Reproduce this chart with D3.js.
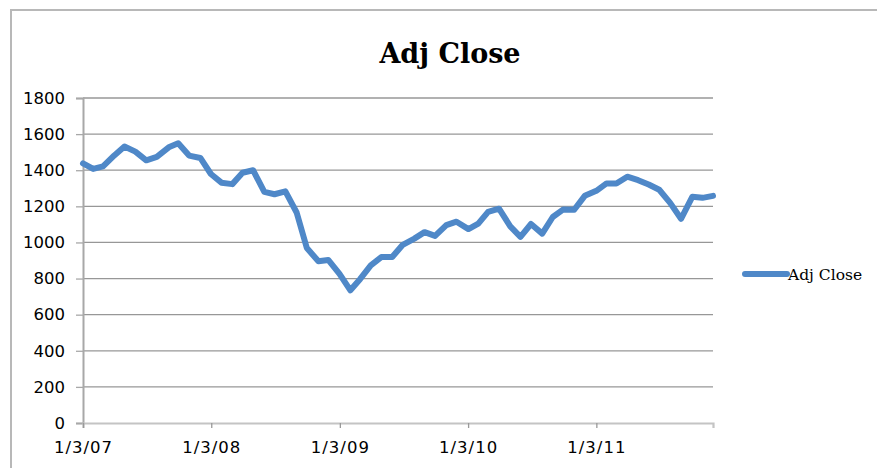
<!DOCTYPE html>
<html>
<head>
<meta charset="utf-8">
<script src="https://cdn.jsdelivr.net/npm/d3@7"></script>
<style>
  html, body { margin: 0; padding: 0; background: #fff; }
  svg { display: block; }
</style>
</head>
<body>
<svg id="chart" width="877" height="468"></svg>
<script>
// -----------------------------
//  DATA (monthly, first trading day)
// -----------------------------
const dates = [
    "2007-01-03", "2007-02-01", "2007-03-01", "2007-04-02", "2007-05-01", "2007-06-01",
    "2007-07-02", "2007-08-01", "2007-09-04", "2007-10-01", "2007-11-01", "2007-12-03",
    "2008-01-02", "2008-02-01", "2008-03-03", "2008-04-01", "2008-05-01", "2008-06-02",
    "2008-07-01", "2008-08-01", "2008-09-02", "2008-10-01", "2008-11-03", "2008-12-01",
    "2009-01-02", "2009-02-02", "2009-03-02", "2009-04-01", "2009-05-01", "2009-06-01",
    "2009-07-01", "2009-08-03", "2009-09-01", "2009-10-01", "2009-11-02", "2009-12-01",
    "2010-01-04", "2010-02-01", "2010-03-01", "2010-04-01", "2010-05-03", "2010-06-01",
    "2010-07-01", "2010-08-02", "2010-09-01", "2010-10-01", "2010-11-01", "2010-12-01",
    "2011-01-03", "2011-02-01", "2011-03-01", "2011-04-01", "2011-05-02", "2011-06-01",
    "2011-07-01", "2011-08-01", "2011-09-01", "2011-10-03", "2011-11-01", "2011-12-01"
];

const adjClose = [
    1438, 1407, 1421, 1482, 1531, 1503, 1455, 1474, 1527, 1549, 1481, 1468,
    1379, 1331, 1323, 1386, 1400, 1280, 1267, 1283, 1166, 969, 896, 903,
    826, 735, 798, 873, 919, 919, 987, 1021, 1057, 1036, 1096, 1115,
    1074, 1104, 1169, 1187, 1089, 1031, 1102, 1049, 1141, 1183, 1181, 1258,
    1286, 1327, 1326, 1364, 1345, 1321, 1292, 1219, 1131, 1253, 1247, 1258
];

const xTickDates = ["2007-01-03", "2008-01-03", "2009-01-03", "2010-01-03", "2011-01-03"];
const yTicks = [0, 200, 400, 600, 800, 1000, 1200, 1400, 1600, 1800];

const seriesName = "Adj Close";
const titleText = "Adj Close";

// -----------------------------
//  SETUP
// -----------------------------
const parse = d3.timeParse("%Y-%m-%d");
const fmt = d3.timeFormat("%-m/%-d/%y");
const points = dates.map((d, i) => ({ date: parse(d), value: adjClose[i] }));

const svg = d3.select("#chart");
const margin = { left: 83, right: 877 - 713, top: 98, bottom: 468 - 423 };
const lineColor = "#4f88c8";

// chart area border
svg.append("rect")
    .attr("x", 11).attr("y", 10)
    .attr("width", 900).attr("height", 500)
    .attr("fill", "#fff")
    .attr("stroke", "#b8b8b8")
    .attr("stroke-width", 2);

const x = d3.scaleTime()
    .domain(d3.extent(points, (d) => d.date))
    .range([margin.left, 877 - margin.right]);

const y = d3.scaleLinear()
    .domain([0, 1800])
    .range([468 - margin.bottom, margin.top]);

// -----------------------------
//  GRIDLINES + AXES
// -----------------------------
svg.append("g")
    .attr("class", "grid")
    .selectAll("line")
    .data(yTicks.filter((t) => t > 0))
    .enter()
    .append("line")
    .attr("x1", margin.left)
    .attr("x2", 877 - margin.right)
    .attr("y1", (d) => y(d))
    .attr("y2", (d) => y(d))
    .attr("stroke", "#979797")
    .attr("stroke-width", 1.3);

const yAxis = svg.append("g")
    .attr("transform", `translate(${margin.left},0)`)
    .call(d3.axisLeft(y).tickValues(yTicks).tickFormat(d3.format("d")).tickSize(7).tickPadding(11));

yAxis.select(".domain").attr("stroke", "#a8a8a8").attr("stroke-width", 2);
yAxis.selectAll(".tick line").attr("stroke", "#a8a8a8").attr("stroke-width", 1.3);
yAxis.selectAll("text")
    .attr("font-family", "DejaVu Sans")
    .attr("font-size", "16.5px")
    .attr("fill", "#000");

const xAxis = svg.append("g")
    .attr("transform", `translate(0,${y(0)})`)
    .call(
        d3.axisBottom(x)
            .tickValues(xTickDates.map(parse))
            .tickFormat(fmt)
            .tickSize(5)
            .tickPadding(13)
    );

xAxis.select(".domain").attr("stroke", "#c4c4c4").attr("stroke-width", 2.2);
xAxis.selectAll(".tick line").attr("stroke", "#999").attr("stroke-width", 1.3);
xAxis.selectAll("text")
    .attr("font-family", "DejaVu Sans")
    .attr("font-size", "16.5px")
    .attr("letter-spacing", "1px")
    .attr("fill", "#000");

// -----------------------------
//  SERIES LINE
// -----------------------------
const line = d3.line()
    .x((d) => x(d.date))
    .y((d) => y(d.value));

svg.append("path")
    .datum(points)
    .attr("d", line)
    .attr("fill", "none")
    .attr("stroke", lineColor)
    .attr("stroke-width", 6)
    .attr("stroke-linejoin", "round")
    .attr("stroke-linecap", "round");

// -----------------------------
//  TITLE + LEGEND
// -----------------------------
svg.append("text")
    .attr("x", 450)
    .attr("y", 63)
    .attr("text-anchor", "middle")
    .attr("font-family", "DejaVu Serif")
    .attr("font-weight", "bold")
    .attr("font-size", "27px")
    .attr("fill", "#000")
    .text(titleText);

const legend = svg.append("g").attr("transform", "translate(745,274)");
legend.append("line")
    .attr("x1", 0).attr("x2", 42)
    .attr("y1", 0).attr("y2", 0)
    .attr("stroke", lineColor)
    .attr("stroke-width", 6)
    .attr("stroke-linecap", "round");
legend.append("text")
    .attr("x", 43)
    .attr("y", 5.5)
    .attr("font-family", "DejaVu Serif")
    .attr("font-size", "15.5px")
    .attr("fill", "#000")
    .text(seriesName);
</script>
</body>
</html>
